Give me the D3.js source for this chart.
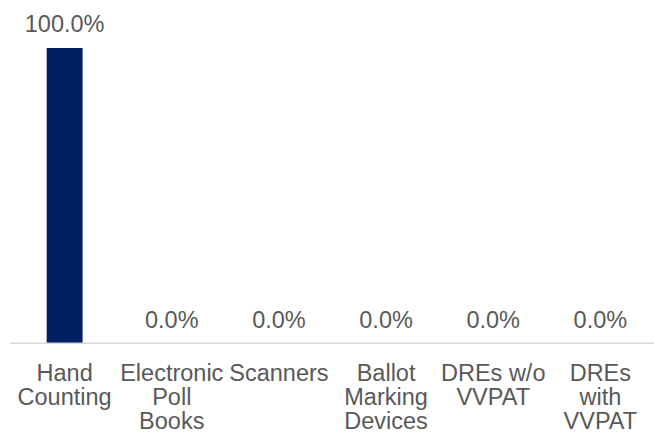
<!DOCTYPE html>
<html><head><meta charset="utf-8">
<script src="https://cdn.jsdelivr.net/npm/d3@7"></script>
<style>body{margin:0;background:#fff}svg{display:block}</style>
</head><body>
<script>
const categories = [["Hand","Counting"],["Electronic","Poll","Books"],["Scanners"],["Ballot","Marking","Devices"],["DREs w/o","VVPAT"],["DREs","with","VVPAT"]];
const values = [1.0, 0, 0, 0, 0, 0];
const W = 654, H = 436;
const m = {left: 11, right: 0, top: 48, bottom: 92};
const svg = d3.select("body").append("svg").attr("width", W).attr("height", H);
const x = d3.scaleBand().domain(d3.range(categories.length)).range([m.left, W - m.right]).paddingInner(0.665).paddingOuter(0.333);
const y = d3.scaleLinear().domain([0, 1]).range([H - m.bottom, m.top]);
const fmt = d3.format(".1%");
const font = "'Liberation Sans', Arial, sans-serif";
svg.selectAll("rect.bar").data(values).join("rect")
  .attr("x", (d,i) => x(i)).attr("width", x.bandwidth())
  .attr("y", d => y(d)).attr("height", d => y(0) - y(d))
  .attr("fill", "#002060");
svg.append("line").attr("x1", 10).attr("x2", W).attr("y1", y(0) - 0.75).attr("y2", y(0) - 0.75)
  .attr("stroke", "#d9d9d9").attr("stroke-width", 1.5);
svg.selectAll("text.val").data(values).join("text")
  .attr("x", (d,i) => x(i) + x.bandwidth()/2).attr("y", d => y(d) - 16)
  .attr("text-anchor", "middle").attr("font-family", font).attr("font-size", 23.5)
  .attr("fill", "#595959").text(d => fmt(d));
const g = svg.selectAll("text.cat").data(categories).join("text")
  .attr("text-anchor", "middle").attr("font-family", font).attr("font-size", 23.5).attr("fill", "#595959");
g.selectAll("tspan").data((d,i) => d.map(t => ({t, i}))).join("tspan")
  .attr("x", d => x(d.i) + x.bandwidth()/2)
  .attr("y", (d,j) => 381 + j*24)
  .text(d => d.t);
</script>
</body></html>
